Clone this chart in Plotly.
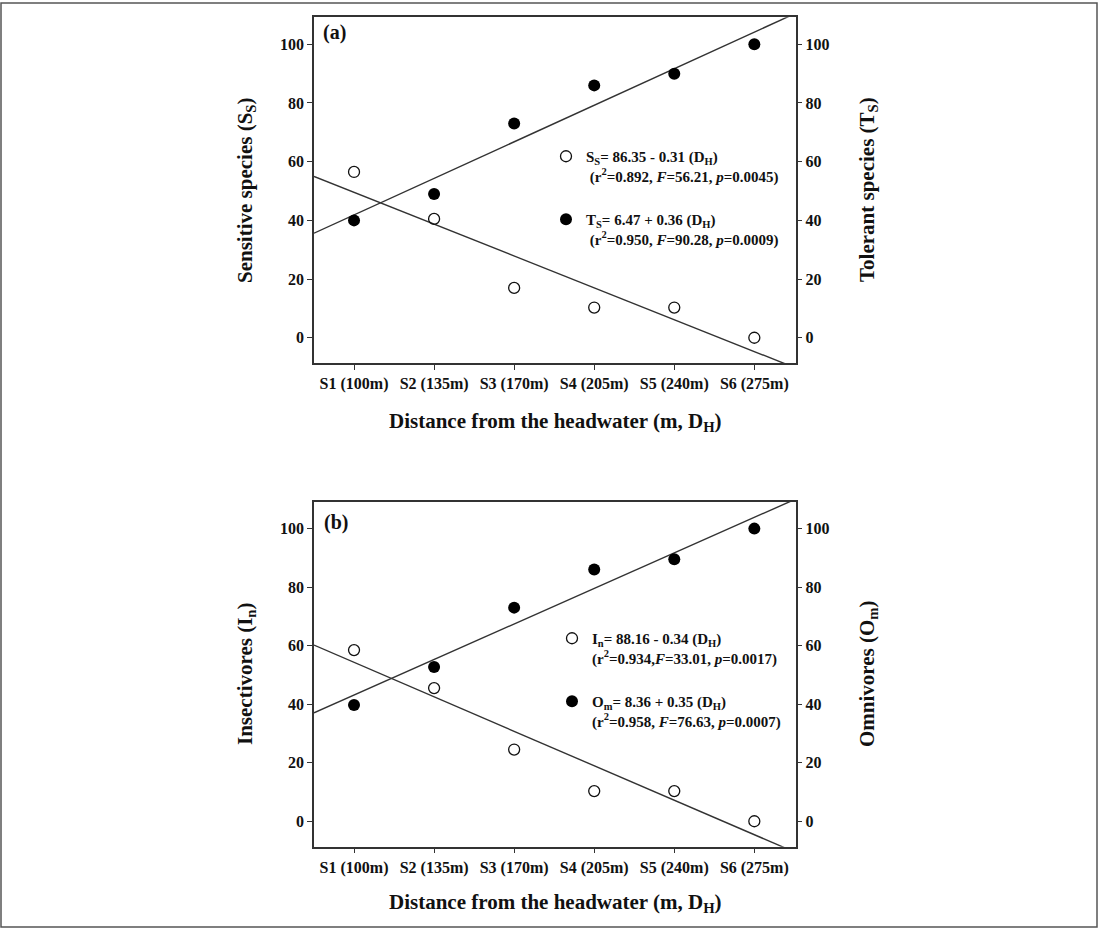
import numpy as np
import plotly.graph_objects as go

# ---------------- data ----------------
sites = ["S1 (100m)", "S2 (135m)", "S3 (170m)", "S4 (205m)", "S5 (240m)", "S6 (275m)"]
distance_m = [100, 135, 170, 205, 240, 275]

sensitive = [56.5, 40.5, 17.0, 10.3, 10.3, 0.0]      # panel (a), open circles, left axis
tolerant = [40.0, 49.0, 73.0, 86.0, 90.0, 100.0]     # panel (a), filled circles, right axis
insectivores = [58.5, 45.5, 24.5, 10.3, 10.3, 0.0]   # panel (b), open circles, left axis
omnivores = [39.7, 52.7, 73.0, 86.0, 89.5, 100.0]    # panel (b), filled circles, right axis

y_ticks = [0, 20, 40, 60, 80, 100]

eq_sensitive = "S<sub>S</sub>= 86.35 - 0.31 (D<sub>H</sub>)<br>&nbsp;(r<sup>2</sup>=0.892, <i>F</i>=56.21, <i>p</i>=0.0045)"
eq_tolerant = "T<sub>S</sub>= 6.47 + 0.36 (D<sub>H</sub>)<br>&nbsp;(r<sup>2</sup>=0.950, <i>F</i>=90.28, <i>p</i>=0.0009)"
eq_insect = "I<sub>n</sub>= 88.16 - 0.34 (D<sub>H</sub>)<br>(r<sup>2</sup>=0.934,<i>F</i>=33.01, <i>p</i>=0.0017)"
eq_omni = "O<sub>m</sub>= 8.36 + 0.35 (D<sub>H</sub>)<br>(r<sup>2</sup>=0.958, <i>F</i>=76.63, <i>p</i>=0.0007)"

# ---------------- layout constants ----------------
W, H = 1099, 929
FONT = "Liberation Serif"
INK = "#111111"
FRAME = "#333333"

X_RANGE = [82.5, 293.0]
Y_RANGE = [-8.7, 109.2]


def px(x):
    return x / W


def py(y):
    return 1 - y / H


fig = go.Figure()


def fit_line(xs, ys):
    k, b = np.polyfit(xs, ys, 1)
    xl = np.array(X_RANGE)
    return xl, k * xl + b


def add_panel(xa, ya_left, ya_right, open_vals, filled_vals, open_name, filled_name, legend_id):
    xs = np.array(distance_m, dtype=float)
    # regression lines
    for vals, yref in ((open_vals, ya_left), (filled_vals, ya_right)):
        lx, ly = fit_line(xs, np.array(vals))
        fig.add_trace(go.Scatter(x=lx, y=ly, mode="lines", xaxis=xa, yaxis=yref,
                                 line=dict(color=FRAME, width=1.4), showlegend=False,
                                 hoverinfo="skip"))
    fig.add_trace(go.Scatter(x=distance_m, y=open_vals, mode="markers", xaxis=xa, yaxis=ya_left,
                             name=open_name, legend=legend_id, legendgroup=legend_id + "o",
                             marker=dict(symbol="circle-open", size=11, color="#111111",
                                         line=dict(width=1.3, color="#111111"))))
    fig.add_trace(go.Scatter(x=distance_m, y=filled_vals, mode="markers", xaxis=xa, yaxis=ya_right,
                             name=filled_name, legend=legend_id, legendgroup=legend_id + "f",
                             marker=dict(symbol="circle", size=12, color="#000000")))


add_panel("x", "y", "y2", sensitive, tolerant, eq_sensitive, eq_tolerant, "legend")
add_panel("x2", "y3", "y4", insectivores, omnivores, eq_insect, eq_omni, "legend2")

tickfont = dict(family=FONT, size=16, color=INK, weight="bold")
xdom = [px(314), px(795.5)]
dom_a = [py(363.3), py(17.3)]
dom_b = [py(846.7), py(501.7)]


def xaxis_cfg(anchor):
    return dict(domain=xdom, anchor=anchor, range=X_RANGE, tickmode="array",
                tickvals=distance_m, ticktext=sites, ticks="outside", ticklen=5, tickwidth=1,
                tickcolor=FRAME, showline=True, linecolor=FRAME, linewidth=1.5, mirror=True,
                showgrid=False, zeroline=False, tickfont=tickfont, fixedrange=True)


def yaxis_cfg(anchor, dom, side="left", overlay=None):
    d = dict(domain=dom, anchor=anchor, range=Y_RANGE, tickmode="array", tickvals=y_ticks,
             ticks="outside", ticklen=5, tickwidth=1, tickcolor=FRAME, showline=True,
             linecolor=FRAME, linewidth=1.5, showgrid=False, zeroline=False, side=side,
             tickfont=tickfont, fixedrange=True)
    if overlay:
        d["overlaying"] = overlay
    return d


legend_common = dict(font=dict(family=FONT, size=15, color=INK, weight="bold"),
                     bgcolor="rgba(0,0,0,0)", borderwidth=0, valign="top",
                     traceorder="grouped", tracegroupgap=21, xanchor="left", yanchor="top",
                     itemclick=False, itemdoubleclick=False)

annotations = []
title_font = dict(family=FONT, size=21, color=INK, weight="bold")


def ann(text, x, y, font, angle=0, xanchor="center"):
    annotations.append(dict(text=text, x=px(x), y=py(y), xref="paper", yref="paper",
                            showarrow=False, font=font, textangle=angle,
                            xanchor=xanchor, yanchor="middle"))


label_font = dict(family=FONT, size=20, color=INK, weight="bold")
ann("(a)", 321, 33, label_font, xanchor="left")
ann("(b)", 322, 522, label_font, xanchor="left")
ann("Sensitive species (S<sub>S</sub>)", 246, 190, title_font, angle=-90)
ann("Tolerant species (T<sub>S</sub>)", 868, 190, title_font, angle=-90)
ann("Insectivores (I<sub>n</sub>)", 246, 674, title_font, angle=-90)
ann("Omnivores (O<sub>m</sub>)", 868, 674, title_font, angle=-90)
ann("Distance from the headwater (m, D<sub>H</sub>)", 555, 422, title_font)
ann("Distance from the headwater (m, D<sub>H</sub>)", 555, 903, title_font)

fig.update_layout(
    width=W, height=H,
    margin=dict(l=0, r=0, t=0, b=0),
    paper_bgcolor="white", plot_bgcolor="white",
    xaxis=xaxis_cfg("y"),
    yaxis=yaxis_cfg("x", dom_a),
    yaxis2=yaxis_cfg("x", dom_a, side="right", overlay="y"),
    xaxis2=xaxis_cfg("y3"),
    yaxis3=yaxis_cfg("x2", dom_b),
    yaxis4=yaxis_cfg("x2", dom_b, side="right", overlay="y3"),
    legend=dict(x=px(546), y=py(140), **legend_common),
    legend2=dict(x=px(552), y=py(622), **legend_common),
    annotations=annotations,
    shapes=[dict(type="rect", xref="paper", yref="paper", x0=px(1), x1=px(1097),
                 y0=py(927), y1=py(3), line=dict(color="#555555", width=1.5))],
    showlegend=True,
)

fig.write_html("out.html", config={"displayModeBar": False},
               post_script="document.body.style.margin='0px';")
